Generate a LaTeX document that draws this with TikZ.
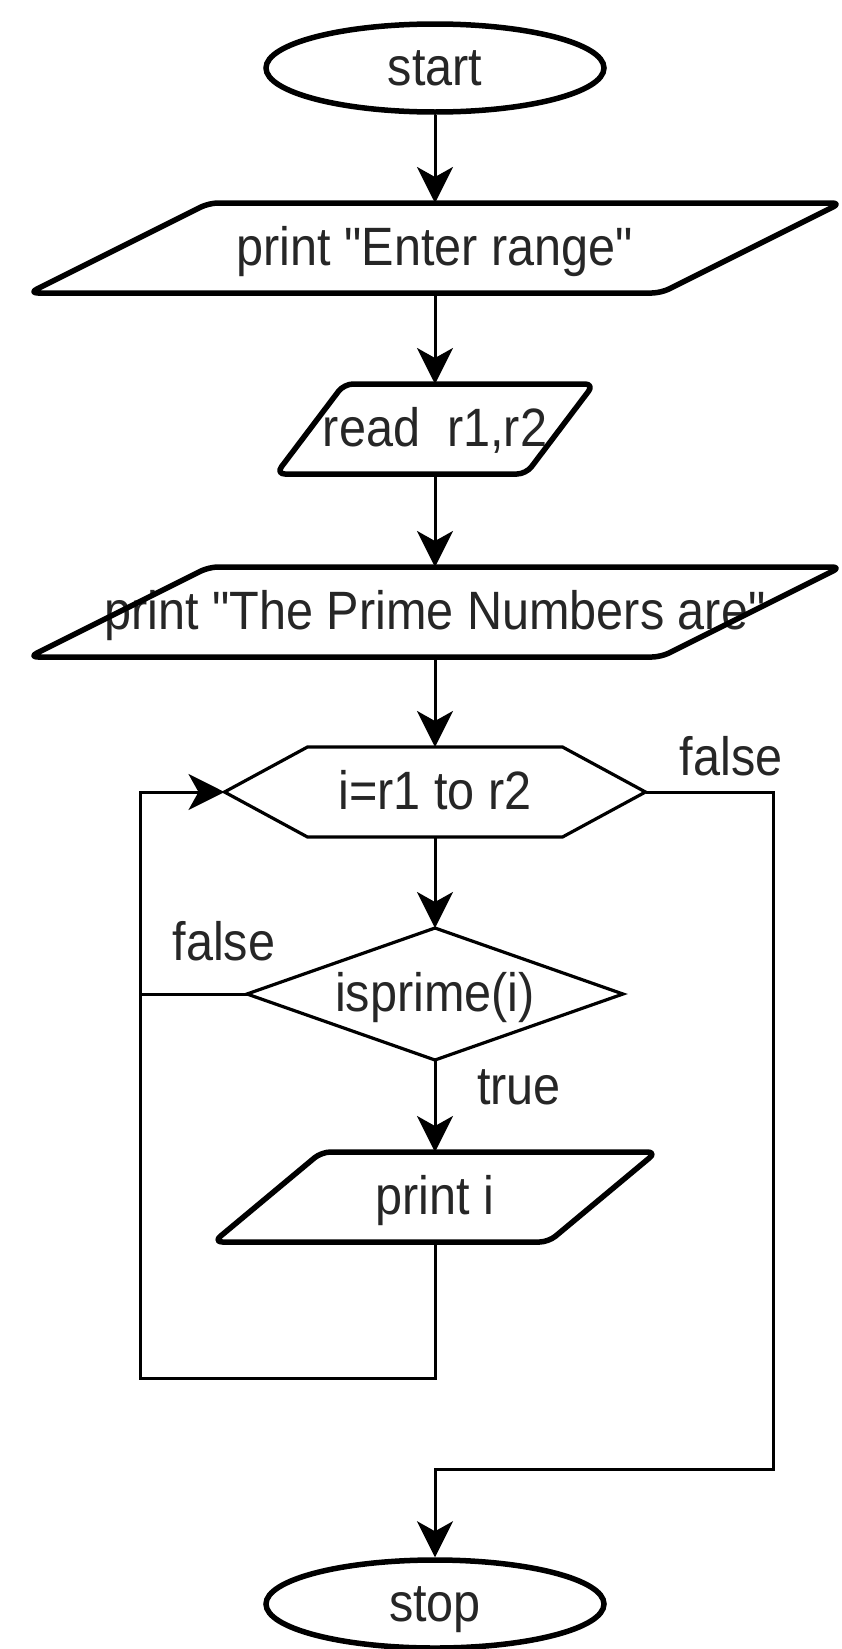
\documentclass[tikz,border=0pt]{standalone}
\usepackage{fontspec}
\setmainfont{Liberation Sans}[Ligatures=TeXOff, FakeStretch=0.9]
\usetikzlibrary{arrows.meta,shapes.geometric}

% rounded input/output parallelogram around a named box; #2 = half the slant
\newcommand\ioframe[2]{%
  \draw[ioline] ([xshift=-#2]#1.south west) -- ([xshift=#2]#1.north west)
    -- ([xshift=#2]#1.north east) -- ([xshift=-#2]#1.south east) -- cycle;}

\begin{document}
\begin{tikzpicture}[x=1pt,y=-1pt,
  every node/.style={font=\fontsize{54}{64}\selectfont, text=black!85},
  anchorbox/.style={rectangle, inner sep=0pt, outer sep=0pt,
    text height=44pt, text depth=10pt},
  terminal/.style={ellipse, draw=black, line width=5.5pt,
    minimum width=338pt, minimum height=88pt, inner sep=0pt,
    text height=44pt, text depth=10pt},
  ioline/.style={draw=black, line width=5.5pt, rounded corners=9pt, line join=round},
  thinshape/.style={draw=black, line width=3.2pt},
  conn/.style={draw=black, line width=3pt},
  arr/.style={conn, -{Stealth[length=36pt, width=36pt, inset=10pt]}},
  lbl/.style={anchor=base, inner sep=0pt}
]
\fill[white] (0,0) rectangle (842,1649);
\useasboundingbox (0,0) rectangle (842,1649);

% terminals
\node[terminal] (start) at (435,68) {start};
\node[terminal] (stop) at (435,1604) {stop};

% input / output steps
\node[anchorbox, minimum width=632pt, minimum height=90pt] (ask) at (435,248)
  {print "Enter range"};
\ioframe{ask}{90pt}
\node[anchorbox, minimum width=250pt, minimum height=90pt] (rd) at (435,429)
  {read\ \ r1,r2};
\ioframe{rd}{34pt}
\node[anchorbox, minimum width=632pt, minimum height=90pt] (head) at (435,612)
  {\makebox[0pt]{print "The Prime Numbers are"}};
\ioframe{head}{90pt}
\node[anchorbox, minimum width=335pt, minimum height=90pt] (out) at (435,1197)
  {print i};
\ioframe{out}{54pt}

% loop header (hexagon)
\node[anchorbox, minimum width=421pt, minimum height=90pt] (loop) at (435,792)
  {i=r1 to r2};
\draw[thinshape] (loop.west) -- ([xshift=83pt]loop.north west)
  -- ([xshift=-83pt]loop.north east) -- (loop.east)
  -- ([xshift=-83pt]loop.south east) -- ([xshift=83pt]loop.south west) -- cycle;

% decision (diamond)
\node[anchorbox, minimum width=376pt, minimum height=132pt] (test) at (435,994)
  {isprime(i)};
\draw[thinshape] (test.north) -- (test.east) -- (test.south) -- (test.west) -- cycle;

% connectors
\coordinate (lb) at (140,1378);
\coordinate (rb) at (773,1469);
\draw[arr] (start.south) -- (ask.north);
\draw[arr] (ask.south) -- (rd.north);
\draw[arr] (rd.south) -- (head.north);
\draw[arr] (head.south) -- (loop.north);
\draw[arr] (loop.south) -- (test.north);
\draw[arr] (test.south) -- (out.north);
\draw[arr] (out.south) |- (lb) |- (loop.west);
\draw[conn] (test.west) -- (test.west -| lb);
\draw[arr] (loop.east) -| (rb) -| (stop.north);

% branch labels
\node[lbl] (lfalse1) at (731,775) {false};
\node[lbl] (lfalse2) at (224,960) {false};
\node[lbl] (ltrue) at (519,1104) {true};
\end{tikzpicture}
\end{document}
